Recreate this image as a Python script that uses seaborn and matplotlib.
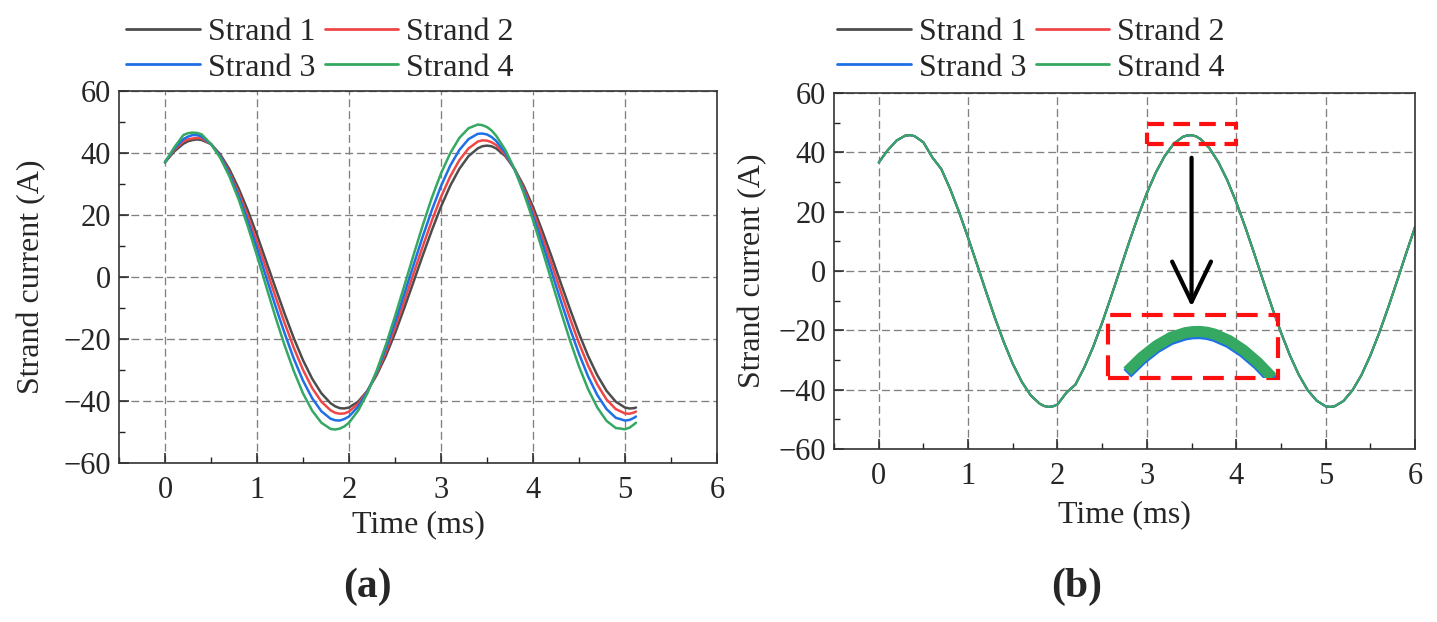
import matplotlib
matplotlib.use("Agg")
import matplotlib.pyplot as plt
import matplotlib.transforms as mtransforms
from matplotlib.patches import Rectangle
from matplotlib.ticker import MultipleLocator
from matplotlib.lines import Line2D
import pandas as pd
import seaborn as sns

# ---------------- data ----------------
strands = ["Strand 1", "Strand 2", "Strand 3", "Strand 4"]
colors = ["#4d4d4d", "#ef4646", "#1f6fe6", "#35a862"]

time_a = [0.0, 0.1, 0.2, 0.25, 0.3, 0.35, 0.4, 0.5, 0.6, 0.7, 0.8, 0.9,
          1.0, 1.1, 1.2, 1.3, 1.4, 1.5, 1.6, 1.7, 1.8, 1.85, 1.9, 1.95,
          2.0, 2.1, 2.2, 2.3, 2.4, 2.5, 2.6, 2.7, 2.8, 2.9,
          3.0, 3.1, 3.2, 3.3, 3.4, 3.45, 3.5, 3.55, 3.6, 3.7, 3.8, 3.9,
          4.0, 4.1, 4.2, 4.3, 4.4, 4.5, 4.6, 4.7, 4.8, 4.9,
          5.0, 5.05, 5.1, 5.12]

strand1_a = [37.0, 40.5, 43.0, 43.8, 44.2, 44.4, 44.2, 42.9, 39.6, 34.8, 28.6, 21.5,
             13.6, 5.1, -3.4, -11.8, -19.7, -26.8, -32.8, -37.5, -40.7, -41.7, -42.3, -42.4,
             -42.1, -40.2, -36.7, -31.7, -25.5, -18.2, -10.1, -1.7, 6.8, 15.0,
             22.7, 29.4, 34.9, 39.0, 41.5, 42.2, 42.4, 42.2, 41.5, 39.0, 34.9, 29.4,
             22.7, 15.0, 6.8, -1.7, -10.1, -18.2, -25.5, -31.7, -36.7, -40.2,
             -42.1, -42.4, -42.3, -42.1]
strand2_a = [37.0, 41.0, 43.8, 44.4, 44.7, 44.9, 44.7, 42.9, 39.1, 33.8, 27.3, 19.7,
             11.4, 2.7, -6.2, -14.8, -22.8, -29.9, -35.8, -40.2, -43.0, -43.8, -44.1, -44.0,
             -43.4, -40.9, -36.8, -31.2, -24.3, -16.5, -7.9, 0.9, 9.7, 18.1,
             25.8, 32.4, 37.7, 41.5, 43.7, 44.1, 44.0, 43.5, 42.6, 39.5, 34.7, 28.6,
             21.3, 13.1, 4.4, -4.4, -13.1, -21.3, -28.6, -34.7, -39.5, -42.6,
             -44.0, -44.1, -43.7, -43.4]
strand3_a = [37.0, 41.4, 44.5, 45.3, 45.8, 45.8, 45.3, 42.9, 38.9, 33.2, 26.2, 18.1,
             9.3, 0.0, -9.3, -18.1, -26.3, -33.4, -39.1, -43.3, -45.7, -46.2, -46.3, -45.8,
             -45.0, -41.8, -37.0, -30.7, -23.1, -14.7, -5.6, 3.7, 12.9, 21.5,
             29.3, 35.9, 41.0, 44.5, 46.2, 46.3, 46.0, 45.2, 43.9, 40.1, 34.7, 27.8,
             19.8, 11.1, 1.9, -7.4, -16.4, -24.7, -32.1, -38.1, -42.6, -45.4,
             -46.3, -46.1, -45.4, -45.0]
strand4_a = [37.0, 41.8, 45.8, 46.4, 46.6, 46.5, 46.0, 42.9, 38.5, 32.5, 25.1, 16.4,
             6.9, -3.0, -12.8, -22.0, -30.3, -37.5, -43.1, -47.0, -49.0, -49.2, -48.9, -48.2,
             -47.0, -43.1, -37.5, -30.3, -22.0, -12.7, -3.0, 6.9, 16.5, 25.5,
             33.4, 39.9, 44.9, 48.0, 49.2, 49.0, 48.4, 47.3, 45.6, 41.0, 34.8, 27.1,
             18.4, 8.9, -1.0, -10.8, -20.2, -28.8, -36.2, -42.1, -46.4, -48.7,
             -49.1, -48.6, -47.5, -47.0]

time_b = [0.0, 0.1, 0.2, 0.3, 0.35, 0.4, 0.5, 0.6, 0.7, 0.8, 0.9,
          1.0, 1.1, 1.2, 1.3, 1.4, 1.5, 1.6, 1.7, 1.8, 1.85, 1.9, 1.95,
          2.0, 2.1, 2.2, 2.3, 2.4, 2.5, 2.6, 2.7, 2.8, 2.9,
          3.0, 3.1, 3.2, 3.3, 3.4, 3.45, 3.5, 3.55, 3.6, 3.7, 3.8, 3.9,
          4.0, 4.1, 4.2, 4.3, 4.4, 4.5, 4.6, 4.7, 4.8, 4.9,
          5.0, 5.05, 5.1, 5.2, 5.3, 5.4, 5.5, 5.6, 5.7, 5.8, 5.9,
          6.0]
current_b = [36.6, 40.7, 44.0, 45.7, 45.8, 45.5, 43.4, 38.3, 34.4, 27.6, 19.8,
             11.2, 2.2, -6.9, -15.8, -24.0, -31.3, -37.3, -41.9, -44.7, -45.5, -45.8, -45.6,
             -45.0, -41.0, -38.3, -32.5, -25.5, -17.4, -8.6, 0.5, 9.6, 18.3,
             26.3, 33.2, 38.8, 42.9, 45.2, 45.7, 45.8, 45.4, 44.5, 41.4, 36.7, 30.6,
             23.2, 14.9, 6.0, -3.2, -12.2, -20.7, -28.4, -35.0, -40.2, -43.7,
             -45.6, -45.8, -45.6, -43.8, -40.2, -35.1, -28.5, -20.8, -12.3, -3.3, 5.9,
             14.8]

xticks = [0, 1, 2, 3, 4, 5, 6]
yticks = [-60, -40, -20, 0, 20, 40, 60]

# ---------------- style ----------------
sns.set_theme(style="ticks")
plt.rcParams["font.family"] = ["Liberation Serif", "DejaVu Serif"]
plt.rcParams["axes.unicode_minus"] = True
plt.rcParams["font.size"] = 22

df_a = pd.concat([
    pd.DataFrame({"Time": time_a, "Current": vals, "Strand": name})
    for name, vals in zip(strands, [strand1_a, strand2_a, strand3_a, strand4_a])
], ignore_index=True)
df_b = pd.concat([
    pd.DataFrame({"Time": time_b, "Current": current_b, "Strand": name})
    for name in strands
], ignore_index=True)
palette = dict(zip(strands, colors))

fig = plt.figure(figsize=(14.37, 6.22), dpi=100)
ax_a = fig.add_axes([0.0828, 0.2556, 0.4161, 0.598])
ax_b = fig.add_axes([0.5804, 0.2781, 0.4043, 0.5723])

grid_kw = dict(color="#808080", linewidth=0.95, linestyle=(0, (6, 3)))


def style_axes(ax, lx, ly):
    ax.set_xlim(-0.5, 6)
    ax.set_ylim(-60, 60)
    ax.set_xticks(xticks)
    ax.set_yticks(yticks)
    ax.xaxis.set_minor_locator(MultipleLocator(0.5))
    ax.yaxis.set_minor_locator(MultipleLocator(10))
    ax.tick_params(which="both", direction="in", top=False, right=False,
                   labelsize=22, color="#222222")
    ax.tick_params(which="major", length=7, width=1.1)
    ax.tick_params(which="minor", length=4, width=1.0)
    ax.tick_params(axis="x", pad=9)
    ax.tick_params(axis="y", pad=6)
    ax.grid(True, which="major", **grid_kw)
    ax.set_axisbelow(True)
    for s in ax.spines.values():
        s.set_color("#333333")
        s.set_linewidth(1.2)
        s.set_visible(True)
    ax.set_xlabel("Time (ms)", fontsize=23)
    ax.set_ylabel("Strand current (A)", fontsize=23)
    ax.xaxis.set_label_coords(0.5, lx)
    ax.xaxis.label.set_verticalalignment("center")
    ax.yaxis.set_label_coords(ly, 0.5)
    ax.yaxis.label.set_verticalalignment("center")


sns.lineplot(data=df_a, x="Time", y="Current", hue="Strand", palette=palette,
             hue_order=strands, linewidth=1.8, legend=False, ax=ax_a, sort=True)
sns.lineplot(data=df_b, x="Time", y="Current", hue="Strand", palette=palette,
             hue_order=strands, linewidth=1.5, legend=False, ax=ax_b, sort=True)

style_axes(ax_a, -0.167, -0.1455)
style_axes(ax_b, -0.185, -0.141)

# legends (row-wise order: 1, 2 / 3, 4)
order = [0, 2, 1, 3]
handles = [Line2D([], [], color=colors[i], lw=2.0) for i in order]
labels = [strands[i] for i in order]
for ax, xc in [(ax_a, 0.2227), (ax_b, 0.7175)]:
    ax.legend(handles, labels, ncol=2, loc="center",
              bbox_to_anchor=(xc, 0.9196), bbox_transform=fig.transFigure,
              frameon=False, fontsize=23, handlelength=2.3, handletextpad=0.25,
              columnspacing=0.3, labelspacing=0.2, borderpad=0)

# zoom annotation in (b)
ax_b.add_patch(Rectangle((3.0, 42.9), 1.0, 6.6, fill=False, edgecolor="#ff1010",
                         linewidth=3, linestyle=(0, (4, 2.2)), zorder=5))
ax_b.add_patch(Rectangle((2.57, -36.1), 1.9, 21.4, fill=False, edgecolor="#ff1010",
                         linewidth=3, linestyle=(0, (5, 2.6)), zorder=5))
ax_b.annotate("", xy=(3.5, -12.0), xytext=(3.5, 38.2),
              arrowprops=dict(arrowstyle="->,head_length=2.9,head_width=1.4",
                              lw=3, color="black", mutation_scale=10,
                              shrinkA=0, shrinkB=0), zorder=6)

ax_in = ax_b.inset_axes([2.57, -36.1, 1.9, 21.4], transform=ax_b.transData)
ax_in.set_xlim(2.87, 4.04)
ax_in.set_ylim(23, 54)
ax_in.axis("off")
ax_in.patch.set_alpha(0)
sel_t = [t for t in time_b if 3.0 <= t <= 4.0]
sel_y = [y for t, y in zip(time_b, current_b) if 3.0 <= t <= 4.0]
off = mtransforms.offset_copy(ax_in.transData, fig=fig, x=0, y=-1.6, units="points")
ax_in.plot(sel_t, sel_y, color=colors[2], lw=8, transform=off, solid_capstyle="butt")
ax_in.plot(sel_t, sel_y, color=colors[3], lw=8, solid_capstyle="butt")

# panel labels
fig.text(367 / 1437, 1 - 587 / 622, "(a)", ha="center", va="center",
         fontsize=30, fontweight="bold")
fig.text(1077 / 1437, 1 - 587 / 622, "(b)", ha="center", va="center",
         fontsize=30, fontweight="bold")

fig.savefig("out.png", dpi=100)
